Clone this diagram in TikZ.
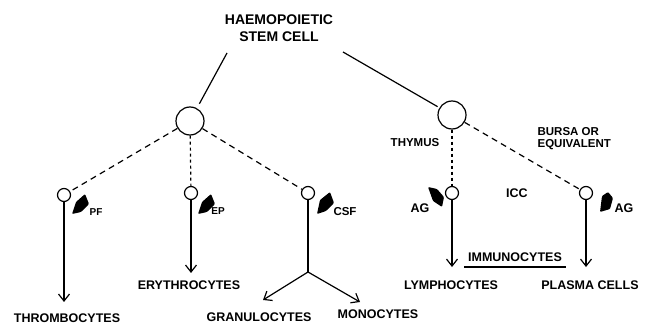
\documentclass[tikz,border=0pt]{standalone}
\usepackage{fontspec}
\setmainfont{Liberation Sans}
\usetikzlibrary{arrows.meta}

\begin{document}
\begin{tikzpicture}[x=1pt, y=-1pt, line width=1.2pt,
  big/.style={circle, draw, minimum size=28pt, inner sep=0pt},
  cell/.style={circle, draw, minimum size=13pt, inner sep=0pt},
  lab/.style={inner sep=2pt, font=\fontsize{12.5}{15}\bfseries},
  small/.style={inner sep=1pt, font=\fontsize{10}{12}\bfseries},
  organ/.style={inner sep=1pt, align=left, font=\fontsize{11.5}{12}\bfseries},
  dashline/.style={dash pattern=on 6pt off 4.5pt},
  dotline/.style={dash pattern=on 3pt off 3pt},
  arr/.style={-{Straight Barb[length=7pt,width=11pt]}},
  factor/.style={fill=black, draw=none, rounded corners=1pt}]
  \useasboundingbox (0,0) rectangle (645,326);

  % stem cell and the two lines
  \node[align=center, inner sep=1pt, font=\fontsize{14}{17}\bfseries] (hsc) at (279,28.5) {HAEMOPOIETIC\\STEM CELL};
  \coordinate (hscl) at (227,53);
  \coordinate (hscr) at (343,52);
  \node[big] (myelo) at (190,121) {};
  \node[big] (lympho) at (452,115) {};
  \draw[shorten >=5pt] (hscl) -- (myelo);
  \draw[shorten >=2pt] (hscr) -- (lympho);

  % committed cells
  \node[cell] (pf) at (64,195) {};
  \node[cell] (ep) at (191,193) {};
  \node[cell] (csf) at (308,193) {};
  \node[cell] (thy) at (452,193) {};
  \node[cell] (bur) at (586,193) {};
  \draw[dashline] (myelo) -- (pf);
  \draw[dotline] (myelo) -- (ep);
  \draw[dashline] (myelo) -- (csf);
  \draw[dotline] (lympho) -- (thy);
  \draw[dashline] (lympho) -- (bur);

  \node[organ] (thymus) at (415,143) {THYMUS};
  \node[organ, anchor=west] (bursa) at (536,139) {BURSA OR\\EQUIVALENT};
  \node[lab] (icc) at (517,193) {ICC};

  % factors
  \fill[factor] (76,202) -- (85,194) -- (89,204) -- (81,212) -- (72,214) -- cycle;
  \fill[factor] (202,202) -- (211,194) -- (215,204) -- (207,212) -- (198,214) -- cycle;
  \fill[factor] (320,200) -- (330,192) -- (334,203) -- (326,211) -- (317,214) -- cycle;
  \fill[factor] (428,187) -- (437,189) -- (444,197) -- (442,207) -- (433,201) -- cycle;
  \fill[factor] (602,196) -- (608,192) -- (613,198) -- (610,209) -- (600,212) -- cycle;
  \node[small] (pflab) at (96,212) {PF};
  \node[small] (eplab) at (218,211) {EP};
  \node[lab, font=\fontsize{11.5}{14}\bfseries] (csflab) at (345,212) {CSF};
  \node[lab] (agl) at (420,208) {AG};
  \node[lab] (agr) at (624,208) {AG};

  % mature cells
  \node[lab] (thrombo) at (67,318) {THROMBOCYTES};
  \node[lab] (ery) at (189,285) {ERYTHROCYTES};
  \node[lab] (gran) at (259,317) {GRANULOCYTES};
  \node[lab] (mono) at (378,314) {MONOCYTES};
  \node[lab] (lymph) at (451,285) {LYMPHOCYTES};
  \node[lab] (plasma) at (590,285) {PLASMA CELLS};
  \node[lab, inner xsep=3.5pt, inner ysep=5pt] (immuno) at (515,257) {IMMUNOCYTES};
  \draw (immuno.south west) -- (immuno.south east);

  \draw[arr, shorten >=9pt] (pf) -- (pf |- thrombo.north);
  \draw[arr, shorten >=5pt] (ep) -- (ep |- ery.north);
  \coordinate (fork) at (308,272);
  \coordinate (grantip) at (263,300);
  \coordinate (monotip) at (360,302);
  \draw (csf) -- (fork);
  \draw[arr] (fork) -- (grantip);
  \draw[arr] (fork) -- (monotip);
  \draw[arr] (thy) -- (thy |- immuno.south);
  \draw[arr] (bur) -- (bur |- immuno.south);
\end{tikzpicture}
\end{document}
